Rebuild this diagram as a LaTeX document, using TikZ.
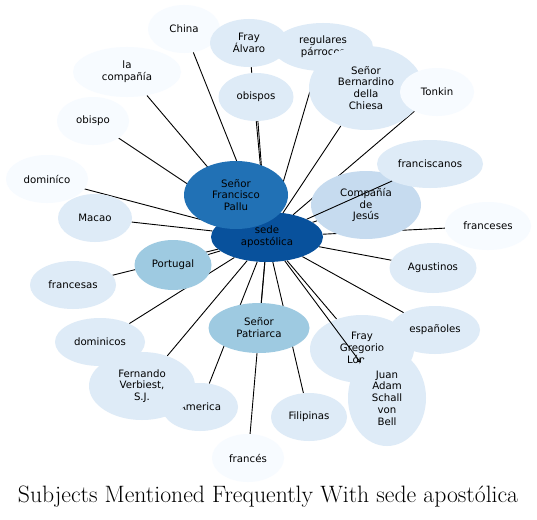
\documentclass[tikz,border=0pt]{standalone}
\usepackage{fontspec}
\newfontfamily\labelfont{DejaVu Sans}
\usepackage{xcolor}
\usetikzlibrary{arrows.meta,positioning,shapes.geometric,backgrounds}

\definecolor{blueA}{HTML}{F7FBFF}
\definecolor{blueB}{HTML}{DEEBF7}
\definecolor{blueC}{HTML}{C6DBEF}
\definecolor{blueD}{HTML}{9ECAE1}
\definecolor{blueE}{HTML}{2171B5}
\definecolor{blueF}{HTML}{08519C}

\begin{document}
\begin{tikzpicture}[
    x=1pt, y=-1pt,
    subj/.style={ellipse, inner sep=0pt, minimum height=48pt, align=center,
                 font=\labelfont\fontsize{10.2}{11.8}\selectfont},
    faint/.style={subj, fill=blueA},
    pale/.style={subj, fill=blueB},
    soft/.style={subj, fill=blueC},
    mid/.style={subj, fill=blueD},
    strong/.style={subj, fill=blueE},
    hub/.style={subj, fill=blueF},
    link/.style={line width=0.9pt},
    tiparr/.style={link, -{Straight Barb[length=2.5pt,width=4pt]}}
]
\useasboundingbox (0,0) rectangle (537,519);

%% Centre
\node[hub, minimum width=112pt, minimum height=50pt] (sede) at (267,237)
  {sede\\apostólica};
\node[strong, minimum width=104pt, minimum height=68pt] (pallu) at (236,195)
  {Señor\\Francisco\\Pallu};

%% Upper ring
\node[faint, minimum width=72pt] (china) at (184,29) {China};
\node[pale, minimum width=78pt] (alvaro) at (249,43) {Fray\\Álvaro};
\node[pale, minimum width=100pt] (regulares) at (323,47) {regulares\\párrocos};
\node[pale, minimum width=114pt, minimum height=84pt] (bernardino) at (366,88)
  {Señor\\Bernardino\\della\\Chiesa};
\node[faint, minimum width=74pt] (tonkin) at (437,92) {Tonkin};
\node[faint, minimum width=108pt, minimum height=50pt] (compania) at (127,72)
  {la\\compañía};
\node[pale, minimum width=75pt] (obispos) at (256,97) {obispos};
\node[faint, minimum width=72pt] (obispo) at (93,121) {obispo};

%% Middle ring
\node[soft, minimum width=110pt, minimum height=68pt] (jesus) at (366,205)
  {Compañía\\de\\Jesús};
\node[pale, minimum width=106pt] (franciscanos) at (430,164) {franciscanos};
\node[faint, minimum width=82pt] (dominico) at (47,179) {dominíco};
\node[pale, minimum width=74pt] (macao) at (95,218) {Macao};
\node[faint, minimum width=86pt] (franceses) at (488,226) {franceses};
\node[mid, minimum width=77pt, minimum height=50pt] (portugal) at (173,265) {Portugal};
\node[pale, minimum width=87pt, minimum height=50pt] (agustinos) at (433,268) {Agustinos};
\node[pale, minimum width=86pt] (francesas) at (73,285) {francesas};

%% Lower ring
\node[pale, minimum width=90pt] (espanoles) at (435,330) {españoles};
\node[mid, minimum width=101pt, minimum height=50pt] (patriarca) at (259,328)
  {Señor\\Patriarca};
\node[pale, minimum width=90pt] (dominicos) at (100,342) {dominicos};
\node[pale, minimum width=104pt, minimum height=68pt] (gregorio) at (362,349)
  {Fray\\Gregorio\\López};
\node[pale, minimum width=78pt, minimum height=96pt] (juan) at (387,398)
  {Juan\\Adam\\Schall\\von\\Bell};
\node[pale, minimum width=76pt] (america) at (200,407) {America};
\node[pale, minimum width=106pt, minimum height=68pt] (fernando) at (142,386)
  {Fernando\\Verbiest,\\S.J.};
\node[pale, minimum width=76pt] (filipinas) at (309,417) {Filipinas};
\node[faint, minimum width=72pt] (frances) at (248,458) {francés};

%% Links
\begin{pgfonlayer}{background}
  \fill[white] (0,0) rectangle (537,519);
  \foreach \n in {china, alvaro, regulares, bernardino, tonkin, compania,
                  obispos, obispo, jesus, dominico, macao, franceses,
                  portugal, agustinos, francesas, espanoles, patriarca,
                  dominicos, gregorio, america, fernando, filipinas, frances}
    \draw[link] (sede) -- (\n);
\end{pgfonlayer}
\draw[link] (sede) -- (franciscanos);
\draw[tiparr] (sede) -- (juan);

%% Title
\node[inner sep=0pt, font=\fontsize{23.7}{28}\selectfont] (title) at (268,497)
  {Subjects Mentioned Frequently With sede apostólica};

\end{tikzpicture}
\end{document}
